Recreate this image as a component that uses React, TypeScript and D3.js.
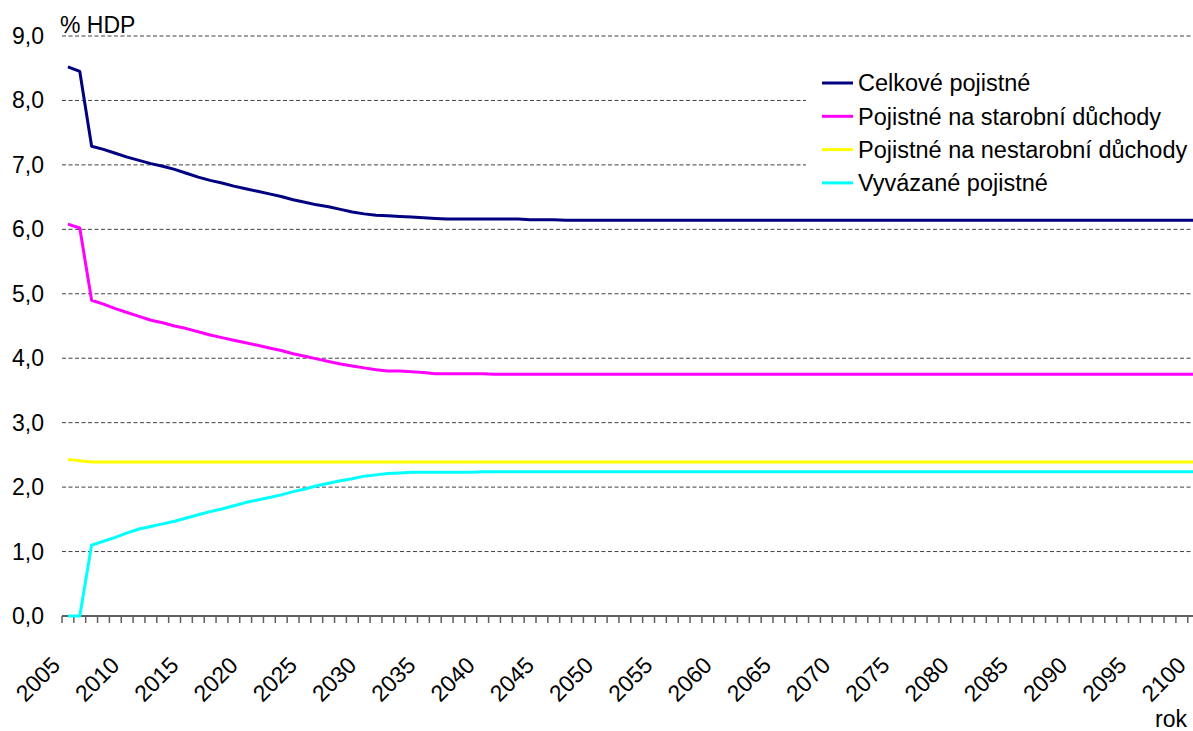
import React from 'react';
import * as d3 from 'd3';

const W = 1193;
const H = 731;

// categories: years 2005..2100
const years = d3.range(2005, 2101);
const yTicks = [0, 1, 2, 3, 4, 5, 6, 7, 8, 9];
const labelYears = years.filter((y) => (y - 2005) % 5 === 0);

// % HDP
const celkove = [
  8.52, 8.45, 7.29, 7.24, 7.18, 7.12, 7.07, 7.02, 6.98, 6.93,
  6.87, 6.81, 6.76, 6.72, 6.67, 6.63, 6.59, 6.55, 6.51, 6.46,
  6.42, 6.38, 6.35, 6.31, 6.27, 6.24, 6.22, 6.21, 6.20, 6.19,
  6.18, 6.17, 6.16, 6.16, 6.16, 6.16, 6.16, 6.16, 6.16, 6.15,
  6.15, 6.15, 6.14, 6.14, 6.14, 6.14, 6.14, 6.14, 6.14, 6.14,
  6.14, 6.14, 6.14, 6.14, 6.14, 6.14, 6.14, 6.14, 6.14, 6.14,
  6.14, 6.14, 6.14, 6.14, 6.14, 6.14, 6.14, 6.14, 6.14, 6.14,
  6.14, 6.14, 6.14, 6.14, 6.14, 6.14, 6.14, 6.14, 6.14, 6.14,
  6.14, 6.14, 6.14, 6.14, 6.14, 6.14, 6.14, 6.14, 6.14, 6.14,
  6.14, 6.14, 6.14, 6.14, 6.14, 6.14,
];

const starobni = [
  6.08, 6.02, 4.90, 4.84, 4.77, 4.71, 4.65, 4.59, 4.55, 4.50,
  4.46, 4.41, 4.36, 4.32, 4.28, 4.24, 4.20, 4.16, 4.12, 4.07,
  4.03, 3.99, 3.95, 3.91, 3.88, 3.85, 3.82, 3.80, 3.80, 3.79,
  3.78, 3.76, 3.76, 3.76, 3.76, 3.76, 3.75, 3.75, 3.75, 3.75,
  3.75, 3.75, 3.75, 3.75, 3.75, 3.75, 3.75, 3.75, 3.75, 3.75,
  3.75, 3.75, 3.75, 3.75, 3.75, 3.75, 3.75, 3.75, 3.75, 3.75,
  3.75, 3.75, 3.75, 3.75, 3.75, 3.75, 3.75, 3.75, 3.75, 3.75,
  3.75, 3.75, 3.75, 3.75, 3.75, 3.75, 3.75, 3.75, 3.75, 3.75,
  3.75, 3.75, 3.75, 3.75, 3.75, 3.75, 3.75, 3.75, 3.75, 3.75,
  3.75, 3.75, 3.75, 3.75, 3.75, 3.75,
];

const nestarobni = [
  2.43, 2.41, 2.39, 2.39, 2.39, 2.39, 2.39, 2.39, 2.39, 2.39,
  2.39, 2.39, 2.39, 2.39, 2.39, 2.39, 2.39, 2.39, 2.39, 2.39,
  2.39, 2.39, 2.39, 2.39, 2.39, 2.39, 2.39, 2.39, 2.39, 2.39,
  2.39, 2.39, 2.39, 2.39, 2.39, 2.39, 2.39, 2.39, 2.39, 2.39,
  2.39, 2.39, 2.39, 2.39, 2.39, 2.39, 2.39, 2.39, 2.39, 2.39,
  2.39, 2.39, 2.39, 2.39, 2.39, 2.39, 2.39, 2.39, 2.39, 2.39,
  2.39, 2.39, 2.39, 2.39, 2.39, 2.39, 2.39, 2.39, 2.39, 2.39,
  2.39, 2.39, 2.39, 2.39, 2.39, 2.39, 2.39, 2.39, 2.39, 2.39,
  2.39, 2.39, 2.39, 2.39, 2.39, 2.39, 2.39, 2.39, 2.39, 2.39,
  2.39, 2.39, 2.39, 2.39, 2.39, 2.39,
];

const vyvazane = [
  0.00, 0.00, 1.10, 1.16, 1.22, 1.29, 1.35, 1.39, 1.43, 1.47,
  1.52, 1.57, 1.62, 1.66, 1.71, 1.76, 1.80, 1.84, 1.88, 1.93,
  1.97, 2.02, 2.06, 2.10, 2.13, 2.17, 2.19, 2.21, 2.22, 2.23,
  2.23, 2.23, 2.23, 2.23, 2.23, 2.24, 2.24, 2.24, 2.24, 2.24,
  2.24, 2.24, 2.24, 2.24, 2.24, 2.24, 2.24, 2.24, 2.24, 2.24,
  2.24, 2.24, 2.24, 2.24, 2.24, 2.24, 2.24, 2.24, 2.24, 2.24,
  2.24, 2.24, 2.24, 2.24, 2.24, 2.24, 2.24, 2.24, 2.24, 2.24,
  2.24, 2.24, 2.24, 2.24, 2.24, 2.24, 2.24, 2.24, 2.24, 2.24,
  2.24, 2.24, 2.24, 2.24, 2.24, 2.24, 2.24, 2.24, 2.24, 2.24,
  2.24, 2.24, 2.24, 2.24, 2.24, 2.24,
];

const series = [
  { name: 'Celkové pojistné', values: celkove, color: '#000080' },
  { name: 'Pojistné na starobní důchody', values: starobni, color: '#ff00ff' },
  { name: 'Pojistné na nestarobní důchody', values: nestarobni, color: '#ffff00' },
  { name: 'Vyvázané pojistné', values: vyvazane, color: '#00ffff' },
];

const FONT = '"Liberation Sans", Arial, sans-serif';

export default function App() {
  const left = 62;
  const bandW = 11.85;
  const right = left + bandW * years.length; // plot runs past the picture edge
  const y0 = 616;
  const yTop = 36;

  const x = d3.scaleBand<number>().domain(years).range([left, right]).padding(0);
  const y = d3.scaleLinear().domain([0, 9]).range([y0, yTop]);
  const cx = (yr: number) => (x(yr) as number) + x.bandwidth() / 2;

  const line = d3
    .line<number>()
    .x((_, i) => cx(years[i]))
    .y((d) => y(d));

  const legendX = 822;
  const legendY = 83;
  const legendStep = 33.3;

  return (
    <svg
      width={W}
      height={H}
      style={{ position: 'absolute', left: 0, top: 0, background: '#fff' }}
      fontFamily={FONT}
    >
      <rect width={W} height={H} fill="#fff" />

      {/* grid */}
      {yTicks
        .filter((t) => t > 0)
        .map((t) => (
          <line
            key={t}
            x1={left}
            x2={right}
            y1={y(t)}
            y2={y(t)}
            stroke="#404040"
            strokeWidth={1}
            strokeDasharray="4,2.5"
          />
        ))}

      {/* x axis */}
      <line x1={left} x2={right} y1={y0} y2={y0} stroke="#606060" strokeWidth={2} />
      {d3.range(years.length + 1).map((i) => (
        <line
          key={i}
          x1={left + i * x.step()}
          x2={left + i * x.step()}
          y1={y0}
          y2={y0 + 7}
          stroke="#606060"
          strokeWidth={1.5}
        />
      ))}

      {/* y tick labels */}
      {yTicks.map((t) => (
        <text
          key={t}
          x={44}
          y={y(t)}
          dy="0.35em"
          textAnchor="end"
          fontSize={23}
          fill="#000"
        >
          {d3.format('.1f')(t).replace('.', ',')}
        </text>
      ))}

      {/* x tick labels */}
      {labelYears.map((yr) => (
        <text
          key={yr}
          transform={`translate(${cx(yr) - 12},${y0 + 45}) rotate(-45)`}
          dy="0.35em"
          textAnchor="end"
          fontSize={23}
          fill="#000"
        >
          {yr}
        </text>
      ))}

      <text x={60} y={33} fontSize={23} fill="#000">
        % HDP
      </text>
      <text x={1187} y={727} textAnchor="end" fontSize={23} fill="#000">
        rok
      </text>

      {/* legend */}
      <rect x={806} y={58} width={W - 806} height={148} fill="#fff" />
      {series.map((s, i) => (
        <g key={s.name} transform={`translate(${legendX},${legendY + i * legendStep})`}>
          <line x1={0} x2={31} y1={0} y2={0} stroke={s.color} strokeWidth={3} />
          <text x={36} y={0} dy="0.35em" fontSize={23.5} fill="#000">
            {s.name}
          </text>
        </g>
      ))}

      {/* series */}
      {[...series].reverse().map((s) => (
        <path
          key={s.name}
          d={line(s.values) || ''}
          fill="none"
          stroke={s.color}
          strokeWidth={3}
          strokeLinejoin="round"
        />
      ))}
    </svg>
  );
}
